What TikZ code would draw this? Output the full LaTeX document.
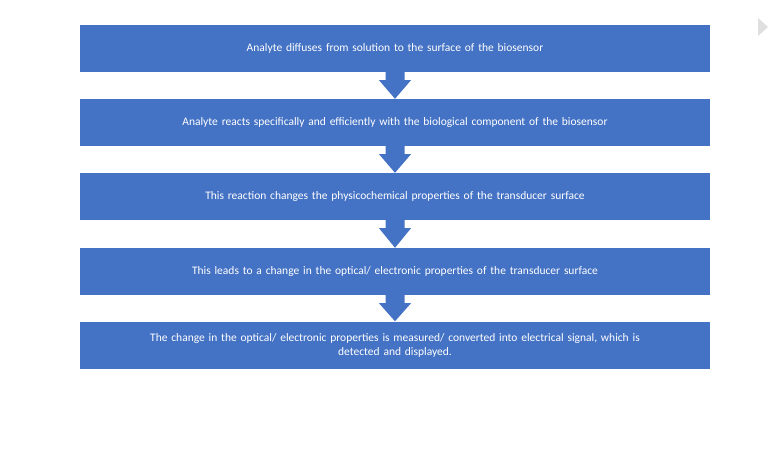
\documentclass[tikz,border=0pt]{standalone}
\usepackage{fontspec}
\setmainfont{Carlito}
\usetikzlibrary{calc}
\begin{document}
\begin{tikzpicture}[x=1pt,y=-1pt,
  box/.style={fill=blue1,draw=none,minimum width=630pt,minimum height=47pt,text=white,font=\fontsize{11.5}{14}\selectfont,align=center,text width=600pt,inner sep=0pt},
  barrow/.style={fill=blue1}]
\definecolor{blue1}{HTML}{4472C4}
\useasboundingbox (0,0) rectangle (768,457);
\node[box] (b1) at (395,48.5) {Analyte diffuses from solution to the surface of the biosensor};
\node[box] (b2) at (395,122.5) {Analyte reacts specifically and efficiently with the biological component of the biosensor};
\node[box] (b3) at (395,196.5) {This reaction changes the physicochemical properties of the transducer surface};
\node[box] (b4) at (395,271.5) {This leads to a change in the optical/ electronic properties of the transducer surface};
\node[box] (b5) at (395,345) {The change in the optical/ electronic properties is measured/ converted into electrical signal, which is\\detected and displayed.};
\foreach \a/\b in {b1/b2,b2/b3,b3/b4,b4/b5}{
  \fill[barrow] ($(\a.south)+(-9.5,0)$) -- ($(\a.south)+(9.5,0)$) -- ($(\a.south)+(9.5,8)$) -- ($(\a.south)+(16,8)$) -- (\b.north) -- ($(\a.south)+(-16,8)$) -- ($(\a.south)+(-9.5,8)$) -- cycle;
}
\fill[gray!25] (758,18) -- (768,27) -- (758,36) -- cycle;
\end{tikzpicture}
\end{document}
